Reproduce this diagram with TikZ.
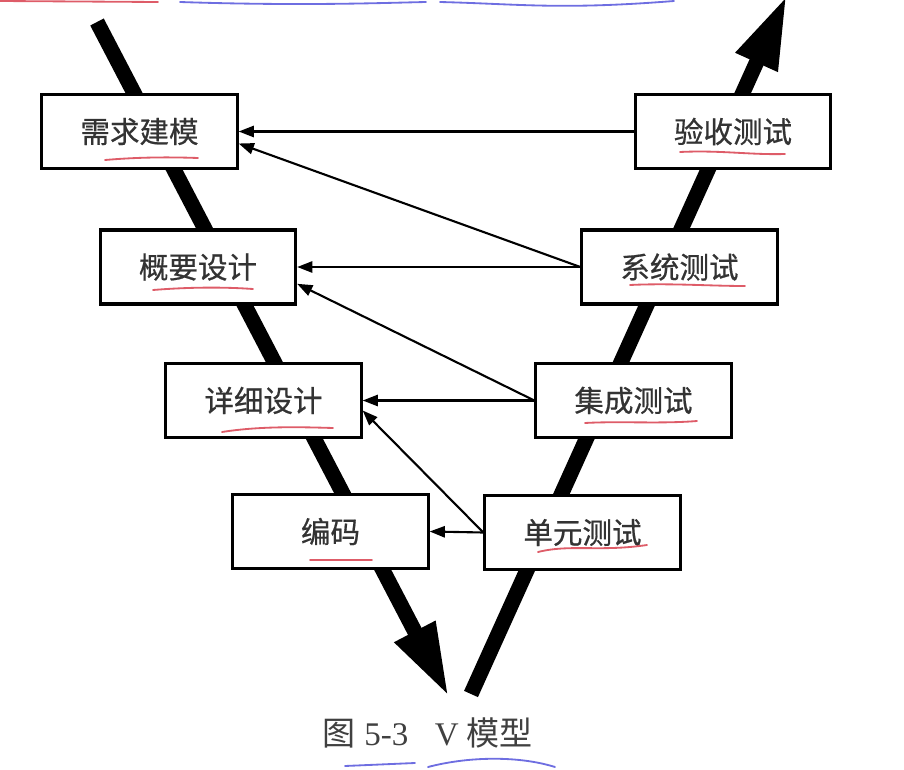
\documentclass[tikz,border=0pt]{standalone}
\usepackage{fontspec}
\setmainfont{Liberation Serif}
\newfontfamily\cjk[FakeBold=0.6]{Noto Sans CJK SC}
\newfontfamily\cjkcap{Noto Sans CJK SC}
\usepackage{tikz}
\usetikzlibrary{arrows.meta}
\definecolor{penred}{RGB}{222,92,104}
\definecolor{penblue}{RGB}{110,110,225}

\begin{document}
\begin{tikzpicture}[
    x=0.025cm, y=-0.025cm,
    stage/.style={draw, line width=2.2pt, fill=white, align=center, inner sep=0pt,
      minimum width=4.88cm, minimum height=1.85cm, text=black!80,
      font=\cjk\fontsize{21}{25}\selectfont},
    varrow/.style={line width=0.38cm, -{Triangle[length=1.85cm,width=1.05cm]}},
    arrow/.style={line width=1.5pt, -{Triangle[length=0.38cm,width=0.28cm]}},
    redink/.style={line width=1.3pt, penred, line cap=round},
    blueink/.style={line width=1.3pt, penblue, line cap=round},
    caption/.style={text=black!75, font=\fontsize{23.5}{28}\selectfont}
]
\clip (0,0) rectangle (904,770);

% the two legs of the V
\coordinate (leftTop) at (97,22);
\coordinate (leftTip) at (449,697);
\coordinate (rightBot) at (471,694);
\coordinate (rightTip) at (787,-5);
\draw[varrow] (leftTop) -- (leftTip);
\draw[varrow] (rightBot) -- (rightTip);

% development side
\node[stage] (req) at (139.5,131.5) {需求建模};
\node[stage] (arch) at (198,267) {概要设计};
\node[stage] (detail) at (263.5,400.5) {详细设计};
\node[stage] (code) at (330.5,531.5) {编码};

% test side
\node[stage] (accept) at (733,131.5) {验收测试};
\node[stage] (system) at (679.5,267) {系统测试};
\node[stage] (integ) at (633.5,400.5) {集成测试};
\node[stage] (unit) at (582.5,532.5) {单元测试};

\draw[arrow] (accept.west) -- (req.east);
\draw[arrow] (system.west) -- ([yshift=-0.3cm]req.east);
\draw[arrow] (system.west) -- (arch.east);
\draw[arrow] (integ.west) -- ([yshift=-0.42cm]arch.east);
\draw[arrow] (integ.west) -- (detail.east);
\draw[arrow] (unit.west) -- ([yshift=-0.25cm]detail.east);
\draw[arrow] (unit.west) -- (code.east);

\node[caption] (cap) at (428,733) {{\cjkcap 图}\ 5-3\hspace{0.8em}V\ {\cjkcap 模型}};

% pen marks
\draw[redink] (105,160) .. controls (140,157) and (170,157) .. (198,158);
\draw[redink] (153,290) .. controls (190,287) and (225,287) .. (253,289);
\draw[redink] (222,432) .. controls (260,426) and (300,427) .. (333,428);
\draw[redink] (310,560) -- (372,560);
\draw[redink] (680,152) .. controls (720,150) and (750,155) .. (785,154);
\draw[redink] (630,285) .. controls (670,283) and (710,286) .. (745,286);
\draw[redink] (585,423) .. controls (620,421) and (660,424) .. (697,421);
\draw[redink] (538,552) .. controls (570,544) and (600,552) .. (647,545);
\draw[redink] (0,1) -- (158,2);
\draw[blueink] (180,2) .. controls (300,6) and (380,3) .. (426,2);
\draw[blueink] (440,2) .. controls (520,4) and (560,10) .. (674,1);
\draw[blueink] (345,766) -- (415,763);
\draw[blueink] (428,767) .. controls (470,756) and (520,756) .. (555,767);
\end{tikzpicture}
\end{document}
